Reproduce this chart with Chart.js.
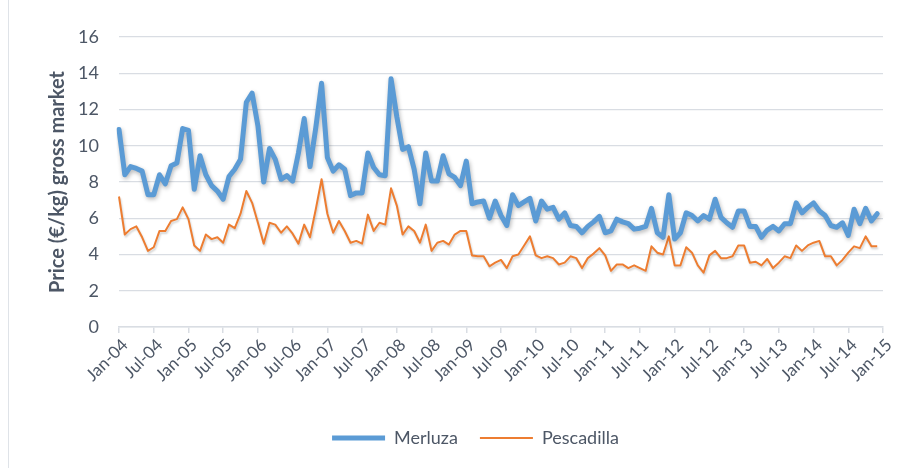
<!DOCTYPE html>
<html>
<head>
<meta charset="utf-8">
<script src="https://cdn.jsdelivr.net/npm/chart.js@4"></script>
<style>
  body { margin: 0; background: #fff; }
  #wrap { position: relative; width: 917px; height: 468px; }
  #frame { position: absolute; left: 8px; top: 0; width: 1px; height: 468px; background: #dfe3e8; }
</style>
</head>
<body>
<div id="wrap">
  <div id="frame"></div>
  <canvas id="chart" width="917" height="468"></canvas>
</div>
<script>
// months shown on the category axis: Jan-04 .. Jan-15
const monthNames = ["Jan", "Feb", "Mar", "Apr", "May", "Jun", "Jul", "Aug", "Sep", "Oct", "Nov", "Dec"];
const years = ["04", "05", "06", "07", "08", "09", "10", "11", "12", "13", "14", "15"];

const tickLabels = ["Jan-04", "Jul-04", "Jan-05", "Jul-05", "Jan-06", "Jul-06", "Jan-07", "Jul-07",
    "Jan-08", "Jul-08", "Jan-09", "Jul-09", "Jan-10", "Jul-10", "Jan-11", "Jul-11", "Jan-12",
    "Jul-12", "Jan-13", "Jul-13", "Jan-14", "Jul-14", "Jan-15"];

// Merluza, monthly price (€/kg), Jan-04 .. Dec-14
const merluza = [
    10.9, 8.4, 8.85, 8.75, 8.6, 7.3, 7.3, 8.4, 7.9, 8.9, 9.05, 10.95,
    10.85, 7.6, 9.45, 8.4, 7.8, 7.5, 7.05, 8.3, 8.7, 9.25, 12.4, 12.9,
    11.1, 8.0, 9.85, 9.25, 8.15, 8.35, 8.05, 9.6, 11.5, 8.85, 11.0, 13.45,
    9.35, 8.6, 8.95, 8.7, 7.25, 7.4, 7.4, 9.6, 8.8, 8.4, 8.35, 13.7,
    11.6, 9.8, 9.95, 8.7, 6.8, 9.6, 8.05, 8.05, 9.45, 8.45, 8.25, 7.8,
    9.15, 6.8, 6.9, 6.95, 6.0, 6.95, 6.15, 5.6, 7.3, 6.7, 6.9, 7.1,
    5.85, 6.95, 6.5, 6.6, 5.95, 6.3, 5.6, 5.55, 5.2, 5.55, 5.8, 6.1,
    5.2, 5.3, 5.95, 5.8, 5.7, 5.4, 5.45, 5.55, 6.55, 5.2, 4.95, 7.3,
    4.85, 5.2, 6.3, 6.15, 5.85, 6.15, 5.95, 7.05, 6.05, 5.75, 5.5, 6.4,
    6.4, 5.55, 5.55, 4.95, 5.35, 5.55, 5.3, 5.7, 5.7, 6.85, 6.3, 6.6,
    6.85, 6.4, 6.15, 5.6, 5.5, 5.75, 5.05, 6.5, 5.7, 6.55, 5.85, 6.25
];

// Pescadilla, monthly price (€/kg), Jan-04 .. Dec-14
const pescadilla = [
    7.2, 5.1, 5.4, 5.55, 4.95, 4.2, 4.4, 5.3, 5.3, 5.85, 5.95, 6.6,
    5.95, 4.5, 4.2, 5.1, 4.85, 4.95, 4.65, 5.65, 5.45, 6.25, 7.5, 6.85,
    5.75, 4.6, 5.75, 5.65, 5.2, 5.55, 5.15, 4.6, 5.65, 4.95, 6.5, 8.15,
    6.25, 5.2, 5.85, 5.3, 4.65, 4.75, 4.6, 6.2, 5.3, 5.75, 5.65, 7.65,
    6.7, 5.1, 5.55, 5.3, 4.65, 5.65, 4.2, 4.65, 4.75, 4.55, 5.1, 5.3,
    5.3, 3.95, 3.9, 3.9, 3.35, 3.55, 3.7, 3.25, 3.9, 4.0, 4.5, 5.0,
    3.95, 3.8, 3.9, 3.8, 3.45, 3.55, 3.9, 3.8, 3.25, 3.8, 4.05, 4.35,
    3.95, 3.1, 3.45, 3.45, 3.25, 3.4, 3.25, 3.1, 4.45, 4.1, 4.0, 5.0,
    3.4, 3.4, 4.4, 4.1, 3.4, 3.0, 3.95, 4.2, 3.8, 3.8, 3.9, 4.5,
    4.5, 3.55, 3.6, 3.4, 3.75, 3.25, 3.55, 3.9, 3.8, 4.5, 4.2, 4.5,
    4.65, 4.75, 3.9, 3.9, 3.4, 3.7, 4.1, 4.45, 4.35, 5.0, 4.45, 4.45
];

const labels = [];
years.forEach(y => monthNames.forEach(m => labels.push(m + "-" + y)));
labels.length = 133; // stop at Jan-15

const textColor = "#4d5766";
const gridColor = "#d9dde3";

// soft shadow under the lines, like the original
const shadowPlugin = {
    id: "lineShadow",
    beforeDatasetDraw(chart, args) {
        const ctx = chart.ctx;
        ctx.save();
        ctx.shadowColor = args.index === 0 ? "rgba(0,0,0,0.28)" : "rgba(0,0,0,0.18)";
        ctx.shadowBlur = args.index === 0 ? 4 : 2;
        ctx.shadowOffsetX = 1;
        ctx.shadowOffsetY = 2;
    },
    afterDatasetDraw(chart) {
        chart.ctx.restore();
    }
};

// nudge the legend to the right, the original sits a bit off-centre
const legendShift = {
    id: "legendShift",
    afterLayout(chart) {
        chart.legend.left += 34;
        chart.legend.right += 34;
    }
};

new Chart(document.getElementById("chart"), {
    type: "line",
    data: {
        labels: labels,
        datasets: [
            {
                label: "Merluza",
                data: merluza,
                borderColor: "#5b9bd5",
                backgroundColor: "#5b9bd5",
                borderWidth: 5,
                pointRadius: 0,
                tension: 0,
                borderJoinStyle: "round",
                borderCapStyle: "round"
            },
            {
                label: "Pescadilla",
                data: pescadilla,
                borderColor: "#ed7d31",
                backgroundColor: "#ed7d31",
                borderWidth: 2,
                pointRadius: 0,
                tension: 0,
                borderJoinStyle: "round"
            }
        ]
    },
    options: {
        responsive: false,
        animation: false,
        layout: { padding: { left: 0, right: 34, top: 37, bottom: 11 } },
        plugins: {
            tooltip: { enabled: false },
            legend: {
                position: "bottom",
                labels: {
                    usePointStyle: true,
                    pointStyle: "line",
                    pointStyleWidth: 53,
                    padding: 22,
                    color: textColor,
                    font: { family: "Lato", size: 18 }
                }
            }
        },
        scales: {
            x: {
                type: "category",
                offset: false,
                afterFit: s => { s.height = 80; },
                grid: {
                    drawOnChartArea: false,
                    drawTicks: true,
                    tickLength: 6,
                    color: gridColor,
                    lineWidth: 1.5
                },
                border: { display: true, color: gridColor, width: 1.5 },
                ticks: {
                    autoSkip: false,
                    maxRotation: 45,
                    minRotation: 45,
                    padding: 2,
                    labelOffset: 6,
                    color: textColor,
                    font: { family: "Lato", size: 17 },
                    callback: (val, i) => tickLabels.includes(labels[i]) ? labels[i] : null
                }
            },
            y: {
                min: 0,
                max: 16,
                afterFit: s => { s.width = 119; },
                grid: { color: gridColor, lineWidth: 1.3, drawTicks: false },
                border: { display: false },
                ticks: {
                    stepSize: 2,
                    padding: 20,
                    color: textColor,
                    font: { family: "Lato", size: 18 }
                },
                title: {
                    display: true,
                    text: "Price (€/kg) gross market",
                    color: textColor,
                    font: { family: "Lato", size: 20, weight: "bold" },
                    padding: { top: 46, bottom: 0 }
                }
            }
        }
    },
    plugins: [shadowPlugin, legendShift]
});
</script>
</body>
</html>
